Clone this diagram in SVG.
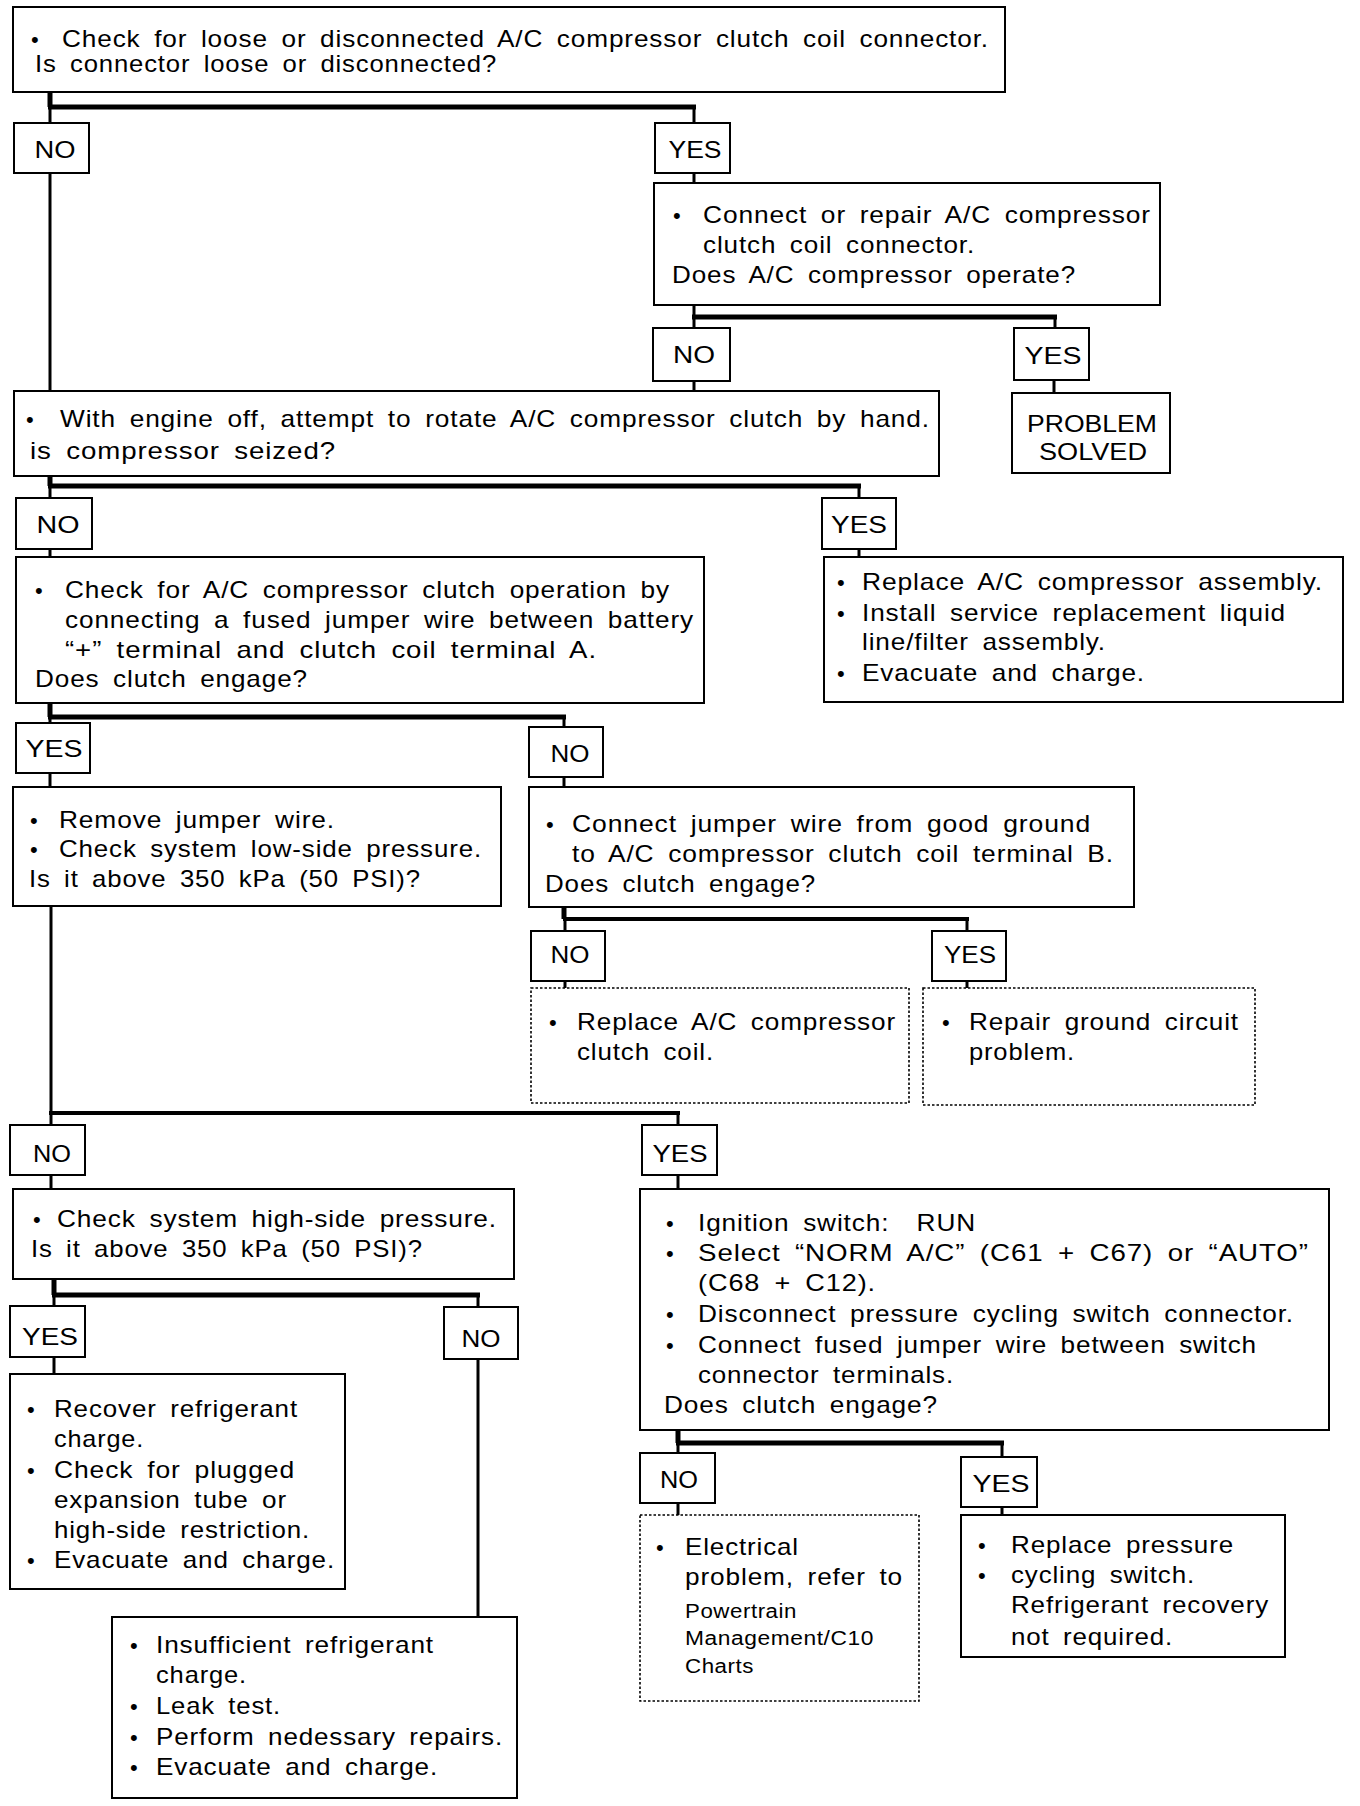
<svg xmlns="http://www.w3.org/2000/svg" width="1360" height="1806" viewBox="0 0 1360 1806">
<style>
text { font-family: "Liberation Sans", Arial, sans-serif; fill: #000; }
.t { font-size: 24px; letter-spacing: 0.8px; word-spacing: 5px; }
.s { font-size: 20px; letter-spacing: 0.5px; }
.b { font-size: 22px; }
.l { font-size: 24px; text-anchor: middle; }
.box { fill: #fff; stroke: #000; stroke-width: 2; }
.dot { fill: #fff; stroke: #000; stroke-width: 1.6; stroke-dasharray: 2.5 2; }
.c { stroke: #000; stroke-width: 3; fill: none; }
.k { stroke: #000; stroke-width: 5; fill: none; }
</style>
<rect width="1360" height="1806" fill="#fff"/>

<g id="connectors">
  <line class="k" x1="50" y1="92" x2="50" y2="107"/>
  <line class="k" x1="48" y1="107" x2="696" y2="107"/>
  <line class="c" x1="50" y1="107" x2="50" y2="123"/>
  <line class="c" x1="694" y1="107" x2="694" y2="123"/>
  <line class="c" x1="50" y1="173" x2="50" y2="391"/>
  <line class="c" x1="694" y1="173" x2="694" y2="183"/>

  <line class="c" x1="694" y1="305" x2="694" y2="317"/>
  <line class="k" x1="692" y1="317" x2="1057" y2="317"/>
  <line class="c" x1="694" y1="317" x2="694" y2="328"/>
  <line class="c" x1="1055" y1="317" x2="1055" y2="328"/>
  <line class="c" x1="694" y1="381" x2="694" y2="391"/>
  <line class="c" x1="1054" y1="380" x2="1054" y2="393"/>

  <line class="k" x1="50" y1="476" x2="50" y2="486"/>
  <line class="k" x1="48" y1="486" x2="861" y2="486"/>
  <line class="c" x1="50" y1="486" x2="50" y2="498"/>
  <line class="c" x1="859" y1="486" x2="859" y2="498"/>
  <line class="c" x1="50" y1="549" x2="50" y2="557"/>
  <line class="c" x1="859" y1="549" x2="859" y2="557"/>

  <line class="k" x1="50" y1="703" x2="50" y2="717"/>
  <line class="k" x1="48" y1="717" x2="566" y2="717"/>
  <line class="c" x1="50" y1="717" x2="50" y2="723"/>
  <line class="c" x1="564" y1="717" x2="564" y2="727"/>
  <line class="c" x1="50" y1="773" x2="50" y2="787"/>
  <line class="c" x1="564" y1="777" x2="564" y2="787"/>

  <line class="k" x1="564" y1="907" x2="564" y2="919"/>
  <line class="c" x1="563" y1="919" x2="969" y2="919" style="stroke-width:4"/>
  <line class="c" x1="565" y1="919" x2="565" y2="931"/>
  <line class="c" x1="967" y1="919" x2="967" y2="931"/>
  <line class="c" x1="565" y1="981" x2="565" y2="988"/>
  <line class="c" x1="967" y1="981" x2="967" y2="988"/>

  <line class="c" x1="51" y1="906" x2="51" y2="1113"/>
  <line class="c" x1="49" y1="1113" x2="680" y2="1113" style="stroke-width:4"/>
  <line class="c" x1="51" y1="1113" x2="51" y2="1125"/>
  <line class="c" x1="678" y1="1113" x2="678" y2="1125"/>
  <line class="c" x1="51" y1="1175" x2="51" y2="1189"/>
  <line class="c" x1="678" y1="1175" x2="678" y2="1189"/>

  <line class="k" x1="54" y1="1279" x2="54" y2="1295"/>
  <line class="k" x1="52" y1="1295" x2="480" y2="1295"/>
  <line class="c" x1="54" y1="1295" x2="54" y2="1306"/>
  <line class="c" x1="478" y1="1295" x2="478" y2="1307"/>
  <line class="c" x1="54" y1="1357" x2="54" y2="1374"/>
  <line class="c" x1="478" y1="1359" x2="478" y2="1617"/>

  <line class="k" x1="678" y1="1430" x2="678" y2="1443"/>
  <line class="k" x1="676" y1="1443" x2="1004" y2="1443"/>
  <line class="c" x1="678" y1="1443" x2="678" y2="1453"/>
  <line class="c" x1="1002" y1="1443" x2="1002" y2="1457"/>
  <line class="c" x1="678" y1="1503" x2="678" y2="1515"/>
  <line class="c" x1="1002" y1="1507" x2="1002" y2="1515"/>
</g>

<g id="n1">
  <rect class="box" x="13" y="7" width="992" height="85"/>
  <text class="b" x="31" y="47">•</text>
  <text class="t" x="62" y="47" textLength="927" lengthAdjust="spacingAndGlyphs">Check for loose or disconnected A/C compressor clutch coil connector.</text>
  <text class="t" x="35" y="72" textLength="462" lengthAdjust="spacingAndGlyphs">Is connector loose or disconnected?</text>
</g>
<g id="l1no"><rect class="box" x="14" y="123" width="75" height="50"/><text class="l" x="55" y="158" textLength="41" lengthAdjust="spacingAndGlyphs">NO</text></g>
<g id="l1yes"><rect class="box" x="655" y="123" width="75" height="50"/><text class="l" x="695" y="158" textLength="53" lengthAdjust="spacingAndGlyphs">YES</text></g>

<g id="n2">
  <rect class="box" x="654" y="183" width="506" height="122"/>
  <text class="b" x="673" y="223">•</text>
  <text class="t" x="703" y="223" textLength="448" lengthAdjust="spacingAndGlyphs">Connect or repair A/C compressor</text>
  <text class="t" x="703" y="253" textLength="272" lengthAdjust="spacingAndGlyphs">clutch coil connector.</text>
  <text class="t" x="672" y="283" textLength="404" lengthAdjust="spacingAndGlyphs">Does A/C compressor operate?</text>
</g>
<g id="l2no"><rect class="box" x="653" y="328" width="77" height="53"/><text class="l" x="694" y="363" textLength="42" lengthAdjust="spacingAndGlyphs">NO</text></g>
<g id="l2yes"><rect class="box" x="1014" y="328" width="75" height="52"/><text class="l" x="1053" y="364" textLength="57" lengthAdjust="spacingAndGlyphs">YES</text></g>

<g id="n3">
  <rect class="box" x="14" y="391" width="925" height="85"/>
  <text class="b" x="26" y="427">•</text>
  <text class="t" x="60" y="427" textLength="870" lengthAdjust="spacingAndGlyphs">With engine off, attempt to rotate A/C compressor clutch by hand.</text>
  <text class="t" x="30" y="459" textLength="306" lengthAdjust="spacingAndGlyphs">is compressor seized?</text>
</g>
<g id="solved">
  <rect class="box" x="1012" y="393" width="158" height="80"/>
  <text class="l" x="1092" y="432" textLength="130" lengthAdjust="spacingAndGlyphs">PROBLEM</text>
  <text class="l" x="1093" y="460" textLength="108" lengthAdjust="spacingAndGlyphs">SOLVED</text>
</g>
<g id="l3no"><rect class="box" x="16" y="498" width="76" height="51"/><text class="l" x="58" y="533" textLength="43" lengthAdjust="spacingAndGlyphs">NO</text></g>
<g id="l3yes"><rect class="box" x="822" y="498" width="74" height="51"/><text class="l" x="859" y="533" textLength="56" lengthAdjust="spacingAndGlyphs">YES</text></g>

<g id="n4">
  <rect class="box" x="16" y="557" width="688" height="146"/>
  <text class="b" x="35" y="598">•</text>
  <text class="t" x="65" y="598" textLength="605" lengthAdjust="spacingAndGlyphs">Check for A/C compressor clutch operation by</text>
  <text class="t" x="65" y="628" textLength="629" lengthAdjust="spacingAndGlyphs">connecting a fused jumper wire between battery</text>
  <text class="t" x="65" y="658" textLength="532" lengthAdjust="spacingAndGlyphs">“+” terminal and clutch coil terminal A.</text>
  <text class="t" x="35" y="687" textLength="273" lengthAdjust="spacingAndGlyphs">Does clutch engage?</text>
</g>
<g id="n5">
  <rect class="box" x="824" y="557" width="519" height="145"/>
  <text class="b" x="837" y="590">•</text>
  <text class="t" x="862" y="590" textLength="461" lengthAdjust="spacingAndGlyphs">Replace A/C compressor assembly.</text>
  <text class="b" x="837" y="621">•</text>
  <text class="t" x="862" y="621" textLength="424" lengthAdjust="spacingAndGlyphs">Install service replacement liquid</text>
  <text class="t" x="862" y="650" textLength="244" lengthAdjust="spacingAndGlyphs">line/filter assembly.</text>
  <text class="b" x="837" y="681">•</text>
  <text class="t" x="862" y="681" textLength="283" lengthAdjust="spacingAndGlyphs">Evacuate and charge.</text>
</g>
<g id="l4yes"><rect class="box" x="16" y="723" width="74" height="50"/><text class="l" x="54" y="757" textLength="57" lengthAdjust="spacingAndGlyphs">YES</text></g>
<g id="l4no"><rect class="box" x="529" y="727" width="74" height="50"/><text class="l" x="570" y="762" textLength="39" lengthAdjust="spacingAndGlyphs">NO</text></g>

<g id="n6">
  <rect class="box" x="13" y="787" width="488" height="119"/>
  <text class="b" x="30" y="828">•</text>
  <text class="t" x="59" y="828" textLength="276" lengthAdjust="spacingAndGlyphs">Remove jumper wire.</text>
  <text class="b" x="30" y="857">•</text>
  <text class="t" x="59" y="857" textLength="423" lengthAdjust="spacingAndGlyphs">Check system low-side pressure.</text>
  <text class="t" x="29" y="887" textLength="392" lengthAdjust="spacingAndGlyphs">Is it above 350 kPa (50 PSI)?</text>
</g>
<g id="n7">
  <rect class="box" x="529" y="787" width="605" height="120"/>
  <text class="b" x="546" y="832">•</text>
  <text class="t" x="572" y="832" textLength="519" lengthAdjust="spacingAndGlyphs">Connect jumper wire from good ground</text>
  <text class="t" x="572" y="862" textLength="542" lengthAdjust="spacingAndGlyphs">to A/C compressor clutch coil terminal B.</text>
  <text class="t" x="545" y="892" textLength="271" lengthAdjust="spacingAndGlyphs">Does clutch engage?</text>
</g>
<g id="l5no"><rect class="box" x="531" y="931" width="74" height="50"/><text class="l" x="570" y="963" textLength="39" lengthAdjust="spacingAndGlyphs">NO</text></g>
<g id="l5yes"><rect class="box" x="932" y="931" width="74" height="50"/><text class="l" x="970" y="963" textLength="52" lengthAdjust="spacingAndGlyphs">YES</text></g>

<g id="n8">
  <rect class="dot" x="531" y="988" width="378" height="115"/>
  <text class="b" x="549" y="1030">•</text>
  <text class="t" x="577" y="1030" textLength="319" lengthAdjust="spacingAndGlyphs">Replace A/C compressor</text>
  <text class="t" x="577" y="1060" textLength="137" lengthAdjust="spacingAndGlyphs">clutch coil.</text>
</g>
<g id="n9">
  <rect class="dot" x="923" y="988" width="332" height="117"/>
  <text class="b" x="942" y="1030">•</text>
  <text class="t" x="969" y="1030" textLength="270" lengthAdjust="spacingAndGlyphs">Repair ground circuit</text>
  <text class="t" x="969" y="1060" textLength="106" lengthAdjust="spacingAndGlyphs">problem.</text>
</g>
<g id="l6no"><rect class="box" x="10" y="1125" width="75" height="50"/><text class="l" x="52" y="1162" textLength="38" lengthAdjust="spacingAndGlyphs">NO</text></g>
<g id="l6yes"><rect class="box" x="642" y="1125" width="75" height="50"/><text class="l" x="680" y="1162" textLength="55" lengthAdjust="spacingAndGlyphs">YES</text></g>

<g id="n10">
  <rect class="box" x="13" y="1189" width="501" height="90"/>
  <text class="b" x="33" y="1227">•</text>
  <text class="t" x="57" y="1227" textLength="440" lengthAdjust="spacingAndGlyphs">Check system high-side pressure.</text>
  <text class="t" x="31" y="1257" textLength="392" lengthAdjust="spacingAndGlyphs">Is it above 350 kPa (50 PSI)?</text>
</g>
<g id="n11">
  <rect class="box" x="640" y="1189" width="689" height="241"/>
  <text class="b" x="666" y="1231">•</text>
  <text class="t" x="698" y="1231" textLength="278" lengthAdjust="spacingAndGlyphs" style="white-space:pre">Ignition switch:  RUN</text>
  <text class="b" x="666" y="1261">•</text>
  <text class="t" x="698" y="1261" textLength="611" lengthAdjust="spacingAndGlyphs">Select “NORM A/C” (C61 + C67) or “AUTO”</text>
  <text class="t" x="698" y="1291" textLength="178" lengthAdjust="spacingAndGlyphs">(C68 + C12).</text>
  <text class="b" x="666" y="1322">•</text>
  <text class="t" x="698" y="1322" textLength="596" lengthAdjust="spacingAndGlyphs">Disconnect pressure cycling switch connector.</text>
  <text class="b" x="666" y="1353">•</text>
  <text class="t" x="698" y="1353" textLength="559" lengthAdjust="spacingAndGlyphs">Connect fused jumper wire between switch</text>
  <text class="t" x="698" y="1383" textLength="256" lengthAdjust="spacingAndGlyphs">connector terminals.</text>
  <text class="t" x="664" y="1413" textLength="274" lengthAdjust="spacingAndGlyphs">Does clutch engage?</text>
</g>
<g id="l7yes"><rect class="box" x="10" y="1306" width="75" height="51"/><text class="l" x="50" y="1345" textLength="56" lengthAdjust="spacingAndGlyphs">YES</text></g>
<g id="l7no"><rect class="box" x="444" y="1307" width="74" height="52"/><text class="l" x="481" y="1347" textLength="39" lengthAdjust="spacingAndGlyphs">NO</text></g>

<g id="n12">
  <rect class="box" x="10" y="1374" width="335" height="215"/>
  <text class="b" x="27" y="1417">•</text>
  <text class="t" x="54" y="1417" textLength="244" lengthAdjust="spacingAndGlyphs">Recover refrigerant</text>
  <text class="t" x="54" y="1447" textLength="90" lengthAdjust="spacingAndGlyphs">charge.</text>
  <text class="b" x="27" y="1478">•</text>
  <text class="t" x="54" y="1478" textLength="241" lengthAdjust="spacingAndGlyphs">Check for plugged</text>
  <text class="t" x="54" y="1508" textLength="233" lengthAdjust="spacingAndGlyphs">expansion tube or</text>
  <text class="t" x="54" y="1538" textLength="256" lengthAdjust="spacingAndGlyphs">high-side restriction.</text>
  <text class="b" x="27" y="1568">•</text>
  <text class="t" x="54" y="1568" textLength="281" lengthAdjust="spacingAndGlyphs">Evacuate and charge.</text>
</g>
<g id="n13">
  <rect class="box" x="112" y="1617" width="405" height="181"/>
  <text class="b" x="130" y="1653">•</text>
  <text class="t" x="156" y="1653" textLength="278" lengthAdjust="spacingAndGlyphs">Insufficient refrigerant</text>
  <text class="t" x="156" y="1683" textLength="91" lengthAdjust="spacingAndGlyphs">charge.</text>
  <text class="b" x="130" y="1714">•</text>
  <text class="t" x="156" y="1714" textLength="125" lengthAdjust="spacingAndGlyphs">Leak test.</text>
  <text class="b" x="130" y="1745">•</text>
  <text class="t" x="156" y="1745" textLength="347" lengthAdjust="spacingAndGlyphs">Perform nedessary repairs.</text>
  <text class="b" x="130" y="1775">•</text>
  <text class="t" x="156" y="1775" textLength="282" lengthAdjust="spacingAndGlyphs">Evacuate and charge.</text>
</g>
<g id="l8no"><rect class="box" x="640" y="1453" width="75" height="50"/><text class="l" x="679" y="1488" textLength="38" lengthAdjust="spacingAndGlyphs">NO</text></g>
<g id="l8yes"><rect class="box" x="961" y="1457" width="76" height="50"/><text class="l" x="1001" y="1492" textLength="57" lengthAdjust="spacingAndGlyphs">YES</text></g>

<g id="n14">
  <rect class="dot" x="640" y="1515" width="279" height="186"/>
  <text class="b" x="656" y="1555">•</text>
  <text class="t" x="685" y="1555" textLength="114" lengthAdjust="spacingAndGlyphs">Electrical</text>
  <text class="t" x="685" y="1585" textLength="218" lengthAdjust="spacingAndGlyphs">problem, refer to</text>
  <text class="s" x="685" y="1618" textLength="112" lengthAdjust="spacingAndGlyphs">Powertrain</text>
  <text class="s" x="685" y="1645" textLength="189" lengthAdjust="spacingAndGlyphs">Management/C10</text>
  <text class="s" x="685" y="1673" textLength="69" lengthAdjust="spacingAndGlyphs">Charts</text>
</g>
<g id="n15">
  <rect class="box" x="961" y="1515" width="324" height="142"/>
  <text class="b" x="978" y="1553">•</text>
  <text class="t" x="1011" y="1553" textLength="223" lengthAdjust="spacingAndGlyphs">Replace pressure</text>
  <text class="b" x="978" y="1583">•</text>
  <text class="t" x="1011" y="1583" textLength="184" lengthAdjust="spacingAndGlyphs">cycling switch.</text>
  <text class="t" x="1011" y="1613" textLength="258" lengthAdjust="spacingAndGlyphs">Refrigerant recovery</text>
  <text class="t" x="1011" y="1645" textLength="162" lengthAdjust="spacingAndGlyphs">not required.</text>
</g>
</svg>
